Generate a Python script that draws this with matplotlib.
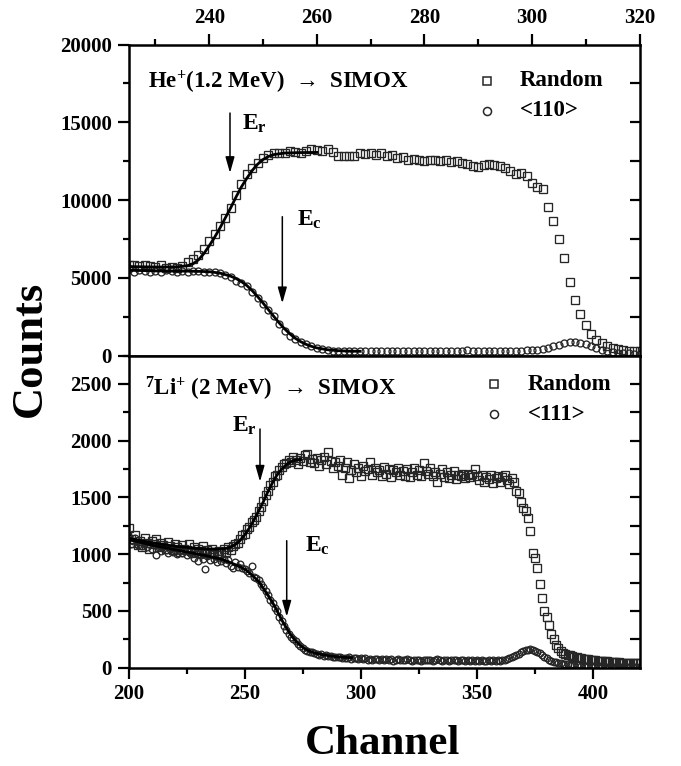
import numpy as np
import matplotlib
matplotlib.use("Agg")
import matplotlib.pyplot as plt
from matplotlib.ticker import MultipleLocator, FixedLocator

plt.rcParams['font.family'] = ['Liberation Serif', 'DejaVu Serif']
plt.rcParams['font.weight'] = 'bold'
plt.rcParams['mathtext.fontset'] = 'custom'
plt.rcParams['mathtext.rm'] = 'Liberation Serif:bold'
plt.rcParams['mathtext.it'] = 'Liberation Serif:bold'
plt.rcParams['mathtext.bf'] = 'Liberation Serif:bold'
plt.rcParams['mathtext.default'] = 'rm'

# ---------------- data: top panel (He+ 1.2 MeV, channels 225..320) ----------------
ch_top = np.arange(225, 321)
he_random = [
    5850, 5800, 5750, 5850, 5750, 5700, 5800, 5650, 5700, 5650,
    5750, 6000, 6200, 6450, 6850, 7350, 7800, 8300, 8850, 9500,
    10300, 11000, 11650, 12050, 12400, 12700, 12900, 13000, 13000, 13050,
    13150, 13100, 13050, 13150, 13250, 13200, 13150, 13300, 13100, 12850,
    12850, 12850, 12850, 13000, 12950, 13050, 12900, 13000, 12850, 12900,
    12700, 12750, 12600, 12650, 12550, 12500, 12550, 12550, 12480, 12560,
    12450, 12500, 12380, 12300, 12200, 12150, 12250, 12300, 12280, 12200,
    12050, 11850, 11700, 11750, 11550, 11100, 10850, 10700, 9570, 8680,
    7500, 6280, 4740, 3600, 2700, 1990, 1410, 990, 780, 580,
    470, 400, 350, 310, 280, 260]
he_110 = [
    5550, 5400, 5500, 5450, 5350, 5450, 5400, 5500, 5450, 5400,
    5450, 5350, 5450, 5450, 5380, 5400, 5350, 5290, 5200, 5020,
    4820, 4650, 4470, 4100, 3700, 3330, 2950, 2550, 2050, 1580,
    1280, 1050, 870, 720, 590, 470, 400, 350, 320, 300,
    290, 280, 300, 290, 310, 280, 300, 290, 310, 300,
    290, 310, 300, 290, 320, 300, 290, 310, 300, 320,
    300, 290, 310, 330, 300, 310, 290, 320, 310, 300,
    310, 300, 320, 310, 330, 350, 380, 430, 510, 600,
    700, 790, 860, 880, 830, 740, 620, 480, 360, 270,
    210, 170, 150, 130, 120, 110]

he_rand_fit_ch = [225, 228, 231, 234, 236, 237, 238, 239, 240, 241, 242, 243, 244,
                  245, 246, 247, 248, 249, 250, 251, 252, 254, 257, 260]
he_rand_fit = [5720, 5700, 5690, 5700, 5780, 5900, 6150, 6550, 7050, 7600, 8200, 8850, 9500,
               10200, 10850, 11400, 11900, 12300, 12600, 12800, 12920, 13020, 13050, 13060]
he_110_fit_ch = [225, 228, 231, 234, 237, 240, 242, 244, 245, 246, 247, 248, 249, 250,
                 251, 252, 253, 254, 255, 256, 257, 258, 259, 260, 262, 264, 266, 268]
he_110_fit = [5480, 5460, 5440, 5430, 5420, 5390, 5300, 5100, 4950, 4750, 4500, 4170, 3790, 3380,
              2950, 2520, 2100, 1720, 1390, 1110, 890, 720, 590, 490, 370, 310, 280, 270]

# ---------------- data: bottom panel (7Li+ 2 MeV, channels 200..420) ----------------
ch_bot = np.arange(200, 421)
li_random = [
    1230, 1130, 1100, 1170, 1080, 1120, 1060, 1140, 1100, 1050,
    1120, 1090, 1130, 1060, 1100, 1080, 1050, 1110, 1070, 1040,
    1090, 1060, 1020, 1080, 1050, 1040, 1090, 1030, 1060, 1010,
    1050, 1030, 1070, 1010, 1040, 1000, 1050, 1020, 990, 1030,
    1010, 1050, 1020, 1060, 1040, 1070, 1090, 1100, 1130, 1170,
    1180, 1220, 1240, 1280, 1300, 1330, 1380, 1420, 1470, 1520,
    1560, 1610, 1640, 1690, 1700, 1740, 1770, 1790, 1800, 1830,
    1810, 1860, 1830, 1790, 1850, 1820, 1870, 1880, 1810, 1840,
    1800, 1850, 1780, 1830, 1860, 1790, 1900, 1820, 1760, 1810,
    1780, 1830, 1700, 1760, 1810, 1670, 1740, 1790, 1720, 1760,
    1690, 1780, 1730, 1750, 1810, 1700, 1760, 1720, 1740, 1690,
    1770, 1710, 1750, 1680, 1740, 1720, 1760, 1700, 1730, 1690,
    1750, 1680, 1720, 1760, 1700, 1740, 1690, 1800, 1730, 1710,
    1760, 1690, 1720, 1640, 1710, 1750, 1680, 1720, 1670, 1700,
    1730, 1660, 1700, 1690, 1710, 1670, 1700, 1680, 1710, 1750,
    1690, 1650, 1700, 1640, 1680, 1660, 1700, 1630, 1670, 1690,
    1640, 1680, 1700, 1650, 1620, 1670, 1640, 1560, 1540, 1460,
    1410, 1380, 1320, 1200, 1010, 970, 880, 740, 610, 500,
    450, 380, 300, 250, 200, 170, 145, 126, 118, 112,
    108, 103, 98, 94, 88, 84, 80, 77, 74, 71,
    68, 66, 63, 61, 59, 57, 55, 53, 51, 50,
    48, 46, 45, 44, 43, 42, 41, 40, 40, 39, 38]
li_111 = [
    1150, 1090, 1120, 1140, 1080, 1110, 1070, 1100, 1060, 1090,
    1050, 1080, 990, 1060, 1030, 1070, 1040, 1010, 1050, 1020,
    1040, 1000, 1030, 1010, 1050, 990, 1020, 1000, 970, 1010,
    940, 990, 960, 870, 980, 950, 1000, 960, 930, 970,
    940, 960, 920, 950, 900, 880, 930, 890, 910, 880,
    870, 850, 830, 900, 800, 790, 770, 740, 710, 680,
    640, 600, 570, 530, 500, 450, 410, 370, 330, 300,
    275, 255, 235, 210, 195, 175, 160, 150, 140, 135,
    128, 120, 115, 118, 105, 110, 100, 104, 95, 98,
    92, 96, 88, 90, 85, 93, 80, 88, 84, 78,
    82, 76, 84, 72, 80, 70, 78, 74, 66, 76,
    70, 78, 68, 74, 62, 72, 76, 66, 70, 64,
    74, 68, 62, 72, 66, 70, 60, 68, 72, 64,
    70, 62, 68, 74, 64, 60, 70, 66, 62, 72,
    66, 70, 60, 64, 68, 62, 70, 58, 66, 62,
    68, 60, 64, 56, 62, 66, 58, 64, 60, 70,
    62, 66, 72, 78, 84, 92, 100, 112, 124, 136,
    146, 152, 160, 168, 158, 150, 140, 128, 112, 96,
    82, 70, 60, 52, 46, 42, 38, 34, 32, 30,
    28, 26, 24, 22, 20, 19, 18, 17, 16, 15,
    14, 13, 12, 12, 11, 10, 10, 9, 9, 8,
    8, 7, 7, 6, 6, 5, 5, 5, 4, 4, 4]

li_rand_fit_ch = [200, 205, 210, 215, 220, 225, 230, 235, 240, 243, 246, 248, 250, 252,
                  254, 256, 258, 260, 262, 264, 266, 268, 270, 272, 274]
li_rand_fit = [1140, 1120, 1100, 1085, 1070, 1060, 1050, 1045, 1045, 1055, 1085, 1120, 1170, 1230,
               1300, 1380, 1460, 1550, 1630, 1700, 1750, 1790, 1815, 1830, 1835]
li_111_fit_ch = [200, 205, 210, 215, 220, 225, 230, 235, 240, 244, 248, 251, 254, 256, 258,
                 260, 262, 264, 266, 268, 270, 272, 274, 276, 278, 280, 284, 288, 292, 296]
li_111_fit = [1130, 1105, 1080, 1060, 1040, 1020, 1000, 980, 955, 925, 890, 855, 800, 760, 700,
              640, 575, 500, 420, 350, 285, 235, 195, 165, 145, 130, 113, 100, 92, 88]

top_xticks = [240, 260, 280, 300, 320]
bot_xticks = [200, 250, 300, 350, 400]
top_yticks = [0, 5000, 10000, 15000, 20000]
bot_yticks = [0, 500, 1000, 1500, 2000, 2500]

# ---------------- figure ----------------
fig = plt.figure(figsize=(6.81, 7.66), dpi=100)
ax1 = fig.add_axes([0.1887, 0.5359, 0.7504, 0.4060])
ax2 = fig.add_axes([0.1887, 0.1283, 0.7504, 0.4076])

mk_col = '#262626'
SPW = 1.8

def style_axes(ax):
    for s in ax.spines.values():
        s.set_linewidth(SPW)
    ax.tick_params(which='major', length=8, width=1.6, direction='out', labelsize=15, pad=4)
    ax.tick_params(which='minor', length=4.5, width=1.6, direction='out')
    for lab in ax.get_xticklabels() + ax.get_yticklabels():
        lab.set_fontweight('bold')

# top panel
ax1.plot(ch_top, he_random, ls='none', marker='s', ms=5.2, mfc='none', mec=mk_col, mew=0.95, zorder=2)
ax1.plot(ch_top, he_110, ls='none', marker='o', ms=5.0, mfc='none', mec=mk_col, mew=0.95, zorder=2)
ax1.plot(he_rand_fit_ch, he_rand_fit, color='black', lw=2.0, zorder=3)
ax1.plot(he_110_fit_ch, he_110_fit, color='black', lw=2.0, zorder=3)
ax1.set_xlim(225, 320)
ax1.set_ylim(0, 20000)
ax1.xaxis.set_major_locator(FixedLocator(top_xticks))
ax1.xaxis.set_minor_locator(MultipleLocator(10))
ax1.yaxis.set_major_locator(FixedLocator(top_yticks))
ax1.yaxis.set_minor_locator(MultipleLocator(2500))
style_axes(ax1)
ax1.tick_params(axis='x', which='both', top=True, bottom=False, labeltop=True, labelbottom=False)

# bottom panel
ax2.plot(ch_bot, li_random, ls='none', marker='s', ms=5.2, mfc='none', mec=mk_col, mew=0.95, zorder=2)
ax2.plot(ch_bot, li_111, ls='none', marker='o', ms=4.8, mfc='none', mec=mk_col, mew=0.95, zorder=2)
ax2.plot(li_rand_fit_ch, li_rand_fit, color='black', lw=2.0, zorder=3)
ax2.plot(li_111_fit_ch, li_111_fit, color='black', lw=2.0, zorder=3)
ax2.set_xlim(200, 420)
ax2.set_ylim(0, 2750)
ax2.xaxis.set_major_locator(FixedLocator(bot_xticks))
ax2.xaxis.set_minor_locator(FixedLocator([225, 275, 325, 375]))
ax2.yaxis.set_major_locator(FixedLocator(bot_yticks))
ax2.yaxis.set_minor_locator(MultipleLocator(250))
style_axes(ax2)
ax2.tick_params(axis='x', which='both', top=False, bottom=True)

# right-side inward ticks
for ax, lim, step in ((ax1, 20000, 2500), (ax2, 2750, 250)):
    tw = ax.twinx()
    tw.set_ylim(0, lim)
    tw.yaxis.set_major_locator(FixedLocator(list(np.arange(step, lim - 1, step))))
    tw.tick_params(axis='y', direction='in', length=7, width=1.6, labelright=False)
    for s in tw.spines.values():
        s.set_visible(False)

# annotations, top
ax1.text(0.0387, 0.879, 'He$^{+}$(1.2 MeV)  →  SIMOX', transform=ax1.transAxes,
         fontsize=16.5, fontweight='bold', va='center', ha='left')
ax1.plot([0.7016], [0.8836], marker='s', ms=5.8, mfc='none', mec=mk_col, mew=1.1,
         transform=ax1.transAxes, clip_on=False)
ax1.plot([0.7016], [0.7862], marker='o', ms=5.8, mfc='none', mec=mk_col, mew=1.1,
         transform=ax1.transAxes, clip_on=False)
ax1.text(0.7661, 0.8836, 'Random', transform=ax1.transAxes, fontsize=16.5, fontweight='bold',
         va='center', ha='left')
ax1.text(0.7661, 0.7862, '<110>', transform=ax1.transAxes, fontsize=16.5, fontweight='bold',
         va='center', ha='left')

arrowkw = dict(arrowstyle='-|>,head_length=0.6,head_width=0.17', lw=1.1, color='black',
               shrinkA=0, shrinkB=0, mutation_scale=16)
ax1.annotate('', xy=(0.1986, 0.5868), xytext=(0.1986, 0.7797), xycoords='axes fraction',
             textcoords='axes fraction', arrowprops=arrowkw)
ax1.annotate('', xy=(0.301, 0.1678), xytext=(0.301, 0.4463), xycoords='axes fraction',
             textcoords='axes fraction', arrowprops=arrowkw)
ax1.text(0.2215, 0.745, 'E$_{r}$', transform=ax1.transAxes, fontsize=17, fontweight='bold',
         va='center', ha='left')
ax1.text(0.3292, 0.436, 'E$_{c}$', transform=ax1.transAxes, fontsize=17, fontweight='bold',
         va='center', ha='left')

# annotations, bottom
ax2.text(0.0323, 0.8927, '$^{7}$Li$^{+}$ (2 MeV)  →  SIMOX', transform=ax2.transAxes,
         fontsize=16.5, fontweight='bold', va='center', ha='left')
ax2.plot([0.7153], [0.9078], marker='s', ms=5.8, mfc='none', mec=mk_col, mew=1.1,
         transform=ax2.transAxes, clip_on=False)
ax2.plot([0.7153], [0.8117], marker='o', ms=5.8, mfc='none', mec=mk_col, mew=1.1,
         transform=ax2.transAxes, clip_on=False)
ax2.text(0.7812, 0.9078, 'Random', transform=ax2.transAxes, fontsize=16.5, fontweight='bold',
         va='center', ha='left')
ax2.text(0.7812, 0.8117, '<111>', transform=ax2.transAxes, fontsize=16.5, fontweight='bold',
         va='center', ha='left')
ax2.annotate('', xy=(0.2573, 0.5958), xytext=(0.2573, 0.7646), xycoords='axes fraction',
             textcoords='axes fraction', arrowprops=arrowkw)
ax2.annotate('', xy=(0.3096, 0.1634), xytext=(0.3096, 0.4068), xycoords='axes fraction',
             textcoords='axes fraction', arrowprops=arrowkw)
ax2.text(0.202, 0.776, 'E$_{r}$', transform=ax2.transAxes, fontsize=17, fontweight='bold',
         va='center', ha='left')
ax2.text(0.3454, 0.391, 'E$_{c}$', transform=ax2.transAxes, fontsize=17, fontweight='bold',
         va='center', ha='left')

fig.text(0.044, 0.545, 'Counts', rotation=90, fontsize=32, fontweight='bold',
         ha='center', va='center')
fig.text(0.5617, 0.0287, 'Channel', fontsize=31, fontweight='bold', ha='center', va='center')

fig.savefig('out.png', dpi=100)
